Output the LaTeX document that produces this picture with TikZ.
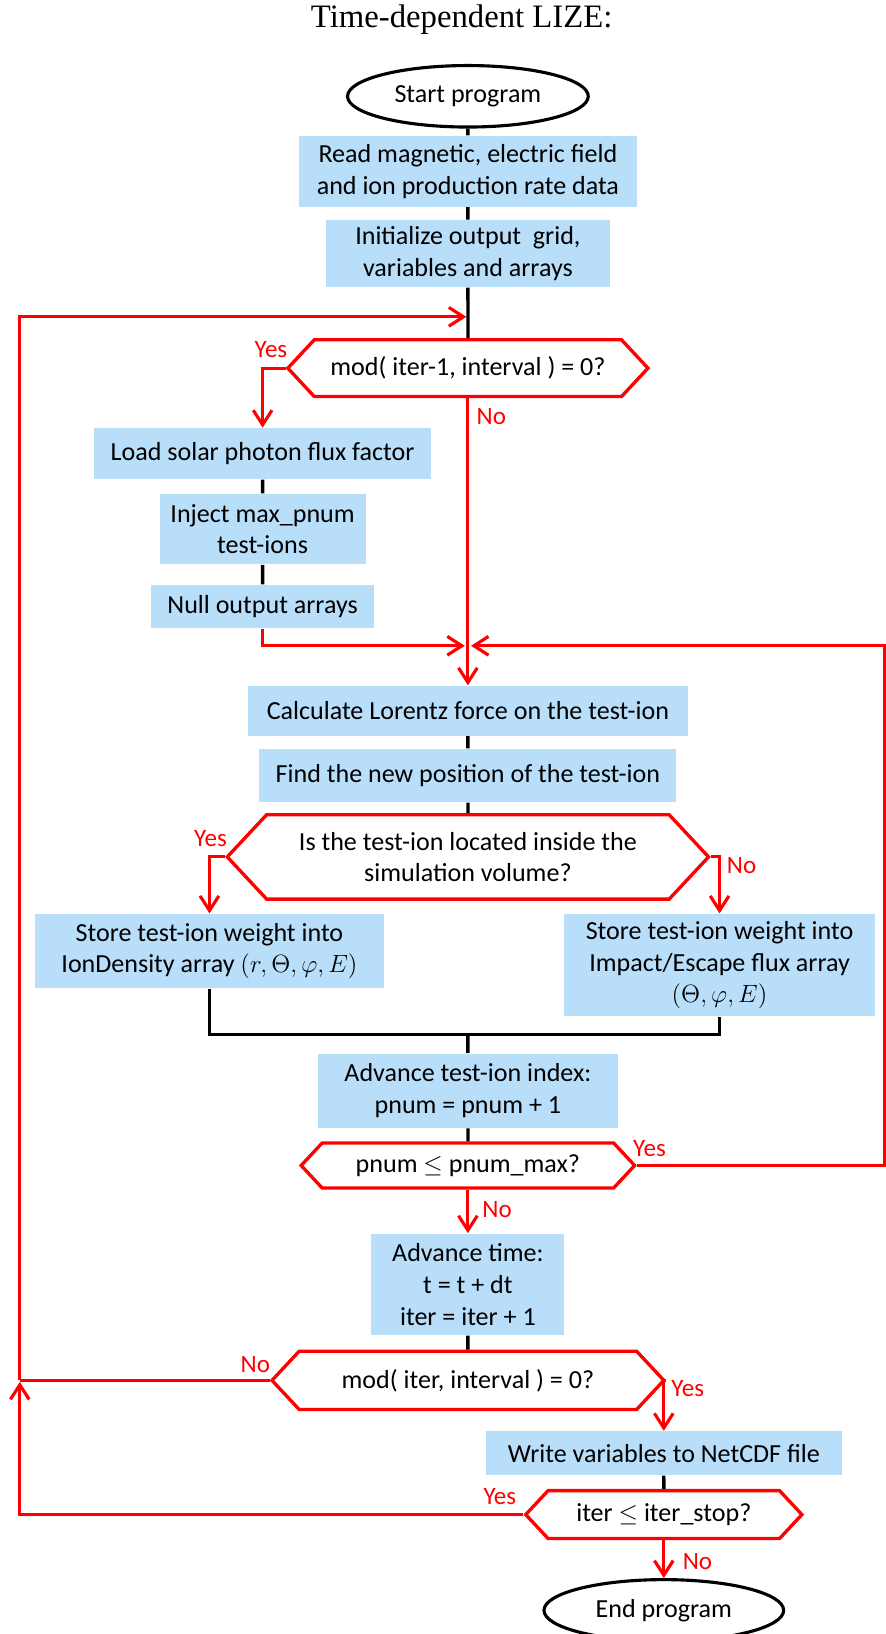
\documentclass[tikz,border=0pt]{standalone}
\usepackage{fontspec}
\setmainfont{Carlito}
\newfontfamily\titlefont{Liberation Serif}
\usepackage{tikz}
\usetikzlibrary{shapes.geometric,shapes.symbols,arrows.meta}
\definecolor{boxblue}{RGB}{185,222,250}
\definecolor{flowred}{RGB}{255,0,0}

\begin{document}
\begin{tikzpicture}[x=0.5pt,y=-0.5pt,
  >={Straight Barb[length=7pt,width=9pt]},
  box/.style={fill=boxblue,inner sep=2pt,align=center,font=\fontsize{12.5}{15.2}\selectfont},
  term/.style={ellipse,draw,line width=1.5pt,fill=white,inner sep=0pt,font=\fontsize{12.5}{15.2}\selectfont},
  dec/.style={signal,signal to=west and east,signal pointer angle=94,draw=flowred,line width=1.6pt,
    fill=white,inner sep=1pt,align=center,font=\fontsize{12.5}{15.2}\selectfont},
  blk/.style={draw=black,line width=1.6pt},
  rd/.style={draw=flowred,line width=1.5pt},
  lbl/.style={text=flowred,inner sep=0pt,font=\fontsize{12}{14}\selectfont}]
\useasboundingbox (0,0) rectangle (850,1568);

\node[inner sep=0pt,font=\titlefont\fontsize{15.7}{18}\selectfont] (title) at (443,19) {Time-dependent LIZE:};

% main column
\node[term,minimum width=115.5pt,minimum height=29.5pt] (start) at (449,92.4) {Start program};
\node[box,minimum width=162.5pt,minimum height=34pt] (read) at (449,164.4) {Read magnetic, electric field\\and ion production rate data};
\node[box,minimum width=136pt,minimum height=32.25pt] (init) at (449,243.3) {Initialize output\ \ grid,\\variables and arrays};
\node[dec,minimum width=172.8pt,minimum height=27.25pt] (d1) at (449,353.3) {mod( iter-1, interval ) = 0?};
\node[box,minimum width=162pt,minimum height=24.5pt] (load) at (252,435.3) {Load solar photon flux factor};
\node[box,minimum width=98.8pt,minimum height=33.85pt] (inject) at (252,507.8) {Inject max\_pnum\\test-ions};
\node[box,minimum width=107.35pt,minimum height=21pt] (null) at (252,582.1) {Null output arrays};
\node[box,minimum width=210.75pt,minimum height=24pt] (calc) at (449,682) {Calculate Lorentz force on the test-ion};
\node[box,minimum width=200pt,minimum height=25.6pt] (find) at (449,744.1) {Find the new position of the test-ion};
\node[dec,minimum width=230.9pt,minimum height=40.5pt] (d2) at (449,822.3) {Is the test-ion located inside the\\simulation volume?};
\node[box,minimum width=167.5pt,minimum height=35.8pt] (store1) at (201,912.7) {Store test-ion weight into\\IonDensity array $(r,\Theta,\varphi,E)$};
\node[box,minimum width=149.5pt,minimum height=49.2pt] (store2) at (690.5,926.1) {Store test-ion weight into\\Impact/Escape flux array\\$(\Theta,\varphi,E)$};
\node[box,minimum width=144.25pt,minimum height=35.7pt] (advidx) at (449,1046.7) {Advance test-ion index:\\pnum = pnum + 1};
\node[dec,minimum width=160pt,minimum height=21.6pt] (d3) at (449,1118.4) {pnum $\leq$ pnum\_max?};
\node[box,minimum width=92.65pt,minimum height=48.75pt] (advtime) at (449,1232.5) {Advance time:\\t = t + dt\\iter = iter + 1};
\node[dec,minimum width=188pt,minimum height=28pt] (d4) at (449,1324.6) {mod( iter, interval ) = 0?};
\node[box,minimum width=170.75pt,minimum height=21.1pt] (write) at (637,1394.5) {Write variables to NetCDF file};
\node[dec,minimum width=132.5pt,minimum height=23pt] (d5) at (637,1453.4) {iter $\leq$ iter\_stop?};
\node[term,minimum width=115pt,minimum height=29.5pt] (end) at (637,1545.3) {End program};

\coordinate (lft) at (19,304);
\coordinate (merge) at (449,619.7);
\coordinate (redge) at (848.5,619.7);
\coordinate (jn) at (449,993);

\draw[blk]
  (start) -- (read)
  (read) -- (init)
  (init) -- (d1)
  (load) -- (inject)
  (inject) -- (null)
  (calc) -- (find)
  (find) -- (d2)
  (jn) -- (advidx)
  (advidx) -- (d3)
  (advtime) -- (d4)
  (write) -- (d5);
\draw[blk] (store1.south) |- (jn) -| (store2.south);

\draw[rd,->] (d1.west) -| (load.north);
\draw[rd,->] (d1.south) -- (calc.north);
\draw[rd,->,shorten >=1.5pt] (null.south) |- (merge);
\draw[rd,->,shorten >=1.5pt] (d3.east) -| (redge) -- (merge);
\draw[rd,->] (d2.west) -| (store1.north);
\draw[rd,->] (d2.east) -| (store2.north);
\draw[rd,->] (d3.south) -- (advtime.north);
\draw[rd] (d4.west) -- (d4.west -| lft);
\draw[rd,->] (d4.east) -| (write.north);
\draw[rd,->,shorten >=0.75pt] (d5.west) -| (d4.west -| lft);
\draw[rd,->,shorten >=0.75pt] (d4.west -| lft) -- (lft) -- (init.south |- lft);
\draw[rd,->] (d5.south) -- (end.north);

\node[lbl] (yes1) at (260,335) {Yes};
\node[lbl] (no1) at (471.5,399.7) {No};
\node[lbl] (yes2) at (202,805) {Yes};
\node[lbl] (no2) at (711.6,830.8) {No};
\node[lbl] (yes3) at (623.3,1102.6) {Yes};
\node[lbl] (no3) at (477,1160.8) {No};
\node[lbl] (no4) at (245,1309.5) {No};
\node[lbl] (yes4) at (660,1332.8) {Yes};
\node[lbl] (yes5) at (479.7,1436.4) {Yes};
\node[lbl] (no5) at (669.3,1498.2) {No};
\end{tikzpicture}
\end{document}
